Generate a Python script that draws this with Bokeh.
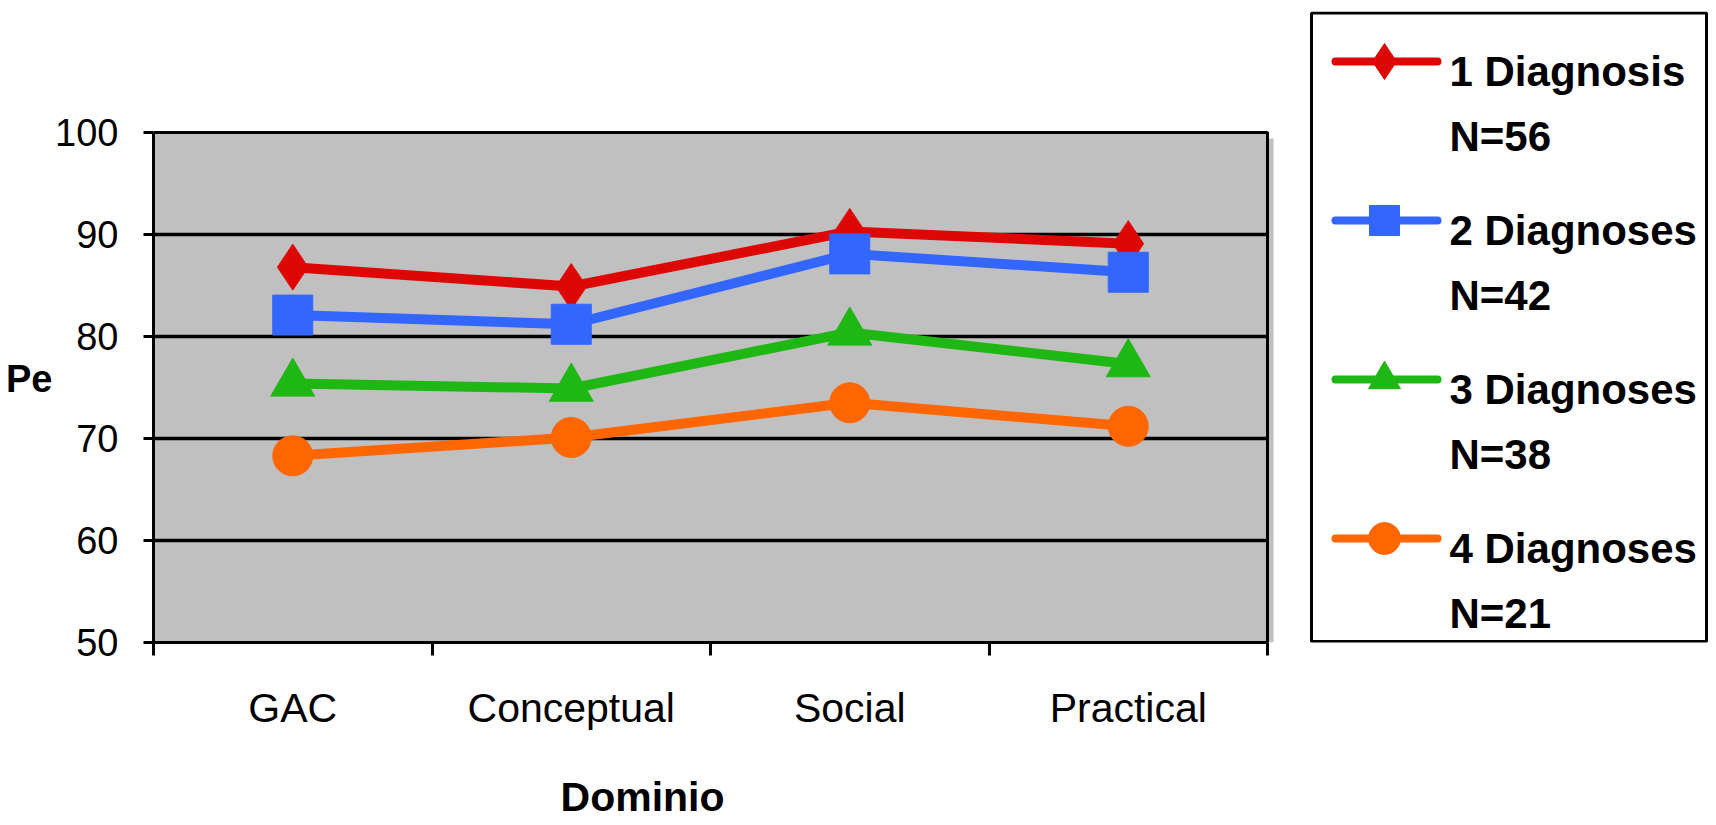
from bokeh.plotting import figure
from bokeh.models import Range1d, FixedTicker, LinearAxis
from bokeh.core.properties import value
from bokeh.embed import file_html
from bokeh.resources import INLINE

# ---------------- data ----------------
categories = ["GAC", "Conceptual", "Social", "Practical"]
series_names = ["1 Diagnosis", "2 Diagnoses", "3 Diagnoses", "4 Diagnoses"]
series_n = ["N=56", "N=42", "N=38", "N=21"]
one_diagnosis = [86.8, 84.9, 90.3, 89.1]
two_diagnoses = [82.1, 81.2, 88.1, 86.3]
three_diagnoses = [75.4, 74.9, 80.4, 77.3]
four_diagnoses = [68.3, 70.1, 73.5, 71.2]
y_ticks = [50, 60, 70, 80, 90, 100]
x_title = "Dominio"
y_title = "Pe"

# ---------------- styles / layout ----------------
series_values = [one_diagnosis, two_diagnoses, three_diagnoses, four_diagnoses]
colors = ["#DD0806", "#3366FF", "#1FB714", "#FF6600"]
markers = ["diamond", "square", "triangle", "circle"]
marker_sizes = [46, 40, 44, 40]
legend_marker_sizes = [36, 30, 32, 32]
FONT = "Liberation Sans"
PLOT_BG = "#C0C0C0"

W, H = 1712, 822
FRAME_L, FRAME_R, FRAME_T, FRAME_B = 153, 1708, 11, 642
X_SCALE = 278.5          # px per category
Y_TOP_PX = 132           # pixel row of the top tick
Y_SCALE = (FRAME_B - Y_TOP_PX) / (max(y_ticks) - min(y_ticks))


def xd(px):
    return (px - FRAME_L) / X_SCALE


def yd(py):
    return max(y_ticks) - (py - Y_TOP_PX) / Y_SCALE


n_cat = len(categories)
xs = [i + 0.5 for i in range(n_cat)]

p = figure(width=W, height=H,
           x_range=Range1d(0, xd(FRAME_R)), y_range=Range1d(min(y_ticks), yd(FRAME_T)),
           output_backend="svg", toolbar_location=None,
           min_border_left=FRAME_L, min_border_right=W - FRAME_R,
           min_border_top=FRAME_T, min_border_bottom=H - FRAME_B)
p.background_fill_color = "white"
p.border_fill_color = "white"
p.outline_line_color = None
p.grid.visible = False

# plot area: shadow, gray panel, grid lines, border
shadow_px = 6
p.quad(left=[n_cat], right=[n_cat + shadow_px / X_SCALE],
       bottom=[min(y_ticks)], top=[max(y_ticks) - shadow_px / Y_SCALE],
       fill_color=PLOT_BG, line_color=None)
p.quad(left=[0], right=[n_cat], bottom=[min(y_ticks)], top=[max(y_ticks)],
       fill_color=PLOT_BG, line_color=None)
inner = [t for t in y_ticks if min(y_ticks) < t < max(y_ticks)]
p.segment(x0=[0] * len(inner), y0=inner, x1=[n_cat] * len(inner), y1=inner,
          line_color="black", line_width=3.5)
p.quad(left=[0], right=[n_cat], bottom=[min(y_ticks)], top=[max(y_ticks)],
       fill_color=None, line_color="black", line_width=3)

# y axis
p.yaxis.ticker = FixedTicker(ticks=y_ticks)
p.yaxis.bounds = (min(y_ticks), max(y_ticks))
p.yaxis.axis_line_width = 3
p.yaxis.major_tick_line_width = 3
p.yaxis.major_tick_out = 10
p.yaxis.major_tick_in = 0
p.yaxis.minor_tick_out = 0
p.yaxis.minor_tick_in = 0
p.yaxis.minor_tick_line_color = None
p.yaxis.major_label_standoff = 25
p.yaxis.major_label_text_font = FONT
p.yaxis.major_label_text_font_size = "38px"
p.yaxis.major_label_text_color = "black"

# "Pe" written horizontally beside the y axis
pe_tick = 75.8
pe_axis = LinearAxis(ticker=FixedTicker(ticks=[pe_tick]),
                     major_label_overrides={pe_tick: y_title},
                     axis_line_color=None, major_tick_line_color=None,
                     minor_tick_line_color=None, major_label_standoff=0,
                     major_tick_out=0, major_tick_in=0, minor_tick_out=0, minor_tick_in=0,
                     major_label_text_font=FONT, major_label_text_font_style="bold",
                     major_label_text_font_size="38px", major_label_text_color="black")
p.add_layout(pe_axis, "left")

# x axis: labels at category centres, ticks at category boundaries
p.xaxis.ticker = FixedTicker(ticks=xs, minor_ticks=list(range(n_cat + 1)))
p.xaxis.bounds = (0, n_cat)
p.xaxis.major_label_overrides = {x: c for x, c in zip(xs, categories)}
p.xaxis.axis_line_width = 3
p.xaxis.major_tick_out = 0
p.xaxis.major_tick_in = 0
p.xaxis.minor_tick_out = 13
p.xaxis.minor_tick_in = 0
p.xaxis.minor_tick_line_width = 3
p.xaxis.minor_tick_line_color = "black"
p.xaxis.major_label_standoff = 29
p.xaxis.major_label_text_font = FONT
p.xaxis.major_label_text_font_size = "41px"
p.xaxis.major_label_text_color = "black"

# "Dominio" written below the category labels, left of centre as in the original
dom_tick = round(xd(642), 3)
dom_axis = LinearAxis(ticker=FixedTicker(ticks=[dom_tick]),
                      major_label_overrides={dom_tick: x_title},
                      axis_line_color=None, major_tick_line_color=None,
                      minor_tick_line_color=None, major_label_standoff=40,
                      major_tick_out=0, major_tick_in=0, minor_tick_out=0, minor_tick_in=0,
                      major_label_text_font=FONT, major_label_text_font_style="bold",
                      major_label_text_font_size="41px", major_label_text_color="black")
p.add_layout(dom_axis, "below")

# series
for vals, col, mk, sz in zip(series_values, colors, markers, marker_sizes):
    p.line(xs, vals, line_color=col, line_width=10, line_join="round")
    p.scatter(xs, vals, marker=mk, size=sz, fill_color=col, line_color=col, line_width=1)

# ---------------- legend box ----------------
BOX_L, BOX_T, BOX_R, BOX_B = 1311, 12.5, 1706, 641
p.quad(left=[xd(BOX_L)], right=[xd(BOX_R)], bottom=[yd(BOX_B)], top=[yd(BOX_T)],
       fill_color="white", line_color="black", line_width=3)
ROW0, ROW_STEP = 61, 159
KEY_L, KEY_R, KEY_MID, TEXT_L = 1335, 1437, 1384, 1449
rows = [ROW0 + i * ROW_STEP for i in range(len(series_names))]
for ly, col, mk, sz in zip(rows, colors, markers, legend_marker_sizes):
    p.line([xd(KEY_L), xd(KEY_R)], [yd(ly), yd(ly)], line_color=col, line_width=8, line_cap="round")
    p.scatter([xd(KEY_MID)], [yd(ly)], marker=mk, size=sz, fill_color=col, line_color=col)
p.text([xd(TEXT_L)] * len(rows), [yd(ly + 10) for ly in rows], text=series_names,
       text_font=value(FONT), text_font_style="bold", text_font_size="42px",
       text_baseline="alphabetic", text_align="left", text_color="black")
p.text([xd(TEXT_L)] * len(rows), [yd(ly + 75) for ly in rows], text=series_n,
       text_font=value(FONT), text_font_style="bold", text_font_size="42px",
       text_baseline="alphabetic", text_align="left", text_color="black")

open("out.html", "w").write(file_html(p, INLINE))
